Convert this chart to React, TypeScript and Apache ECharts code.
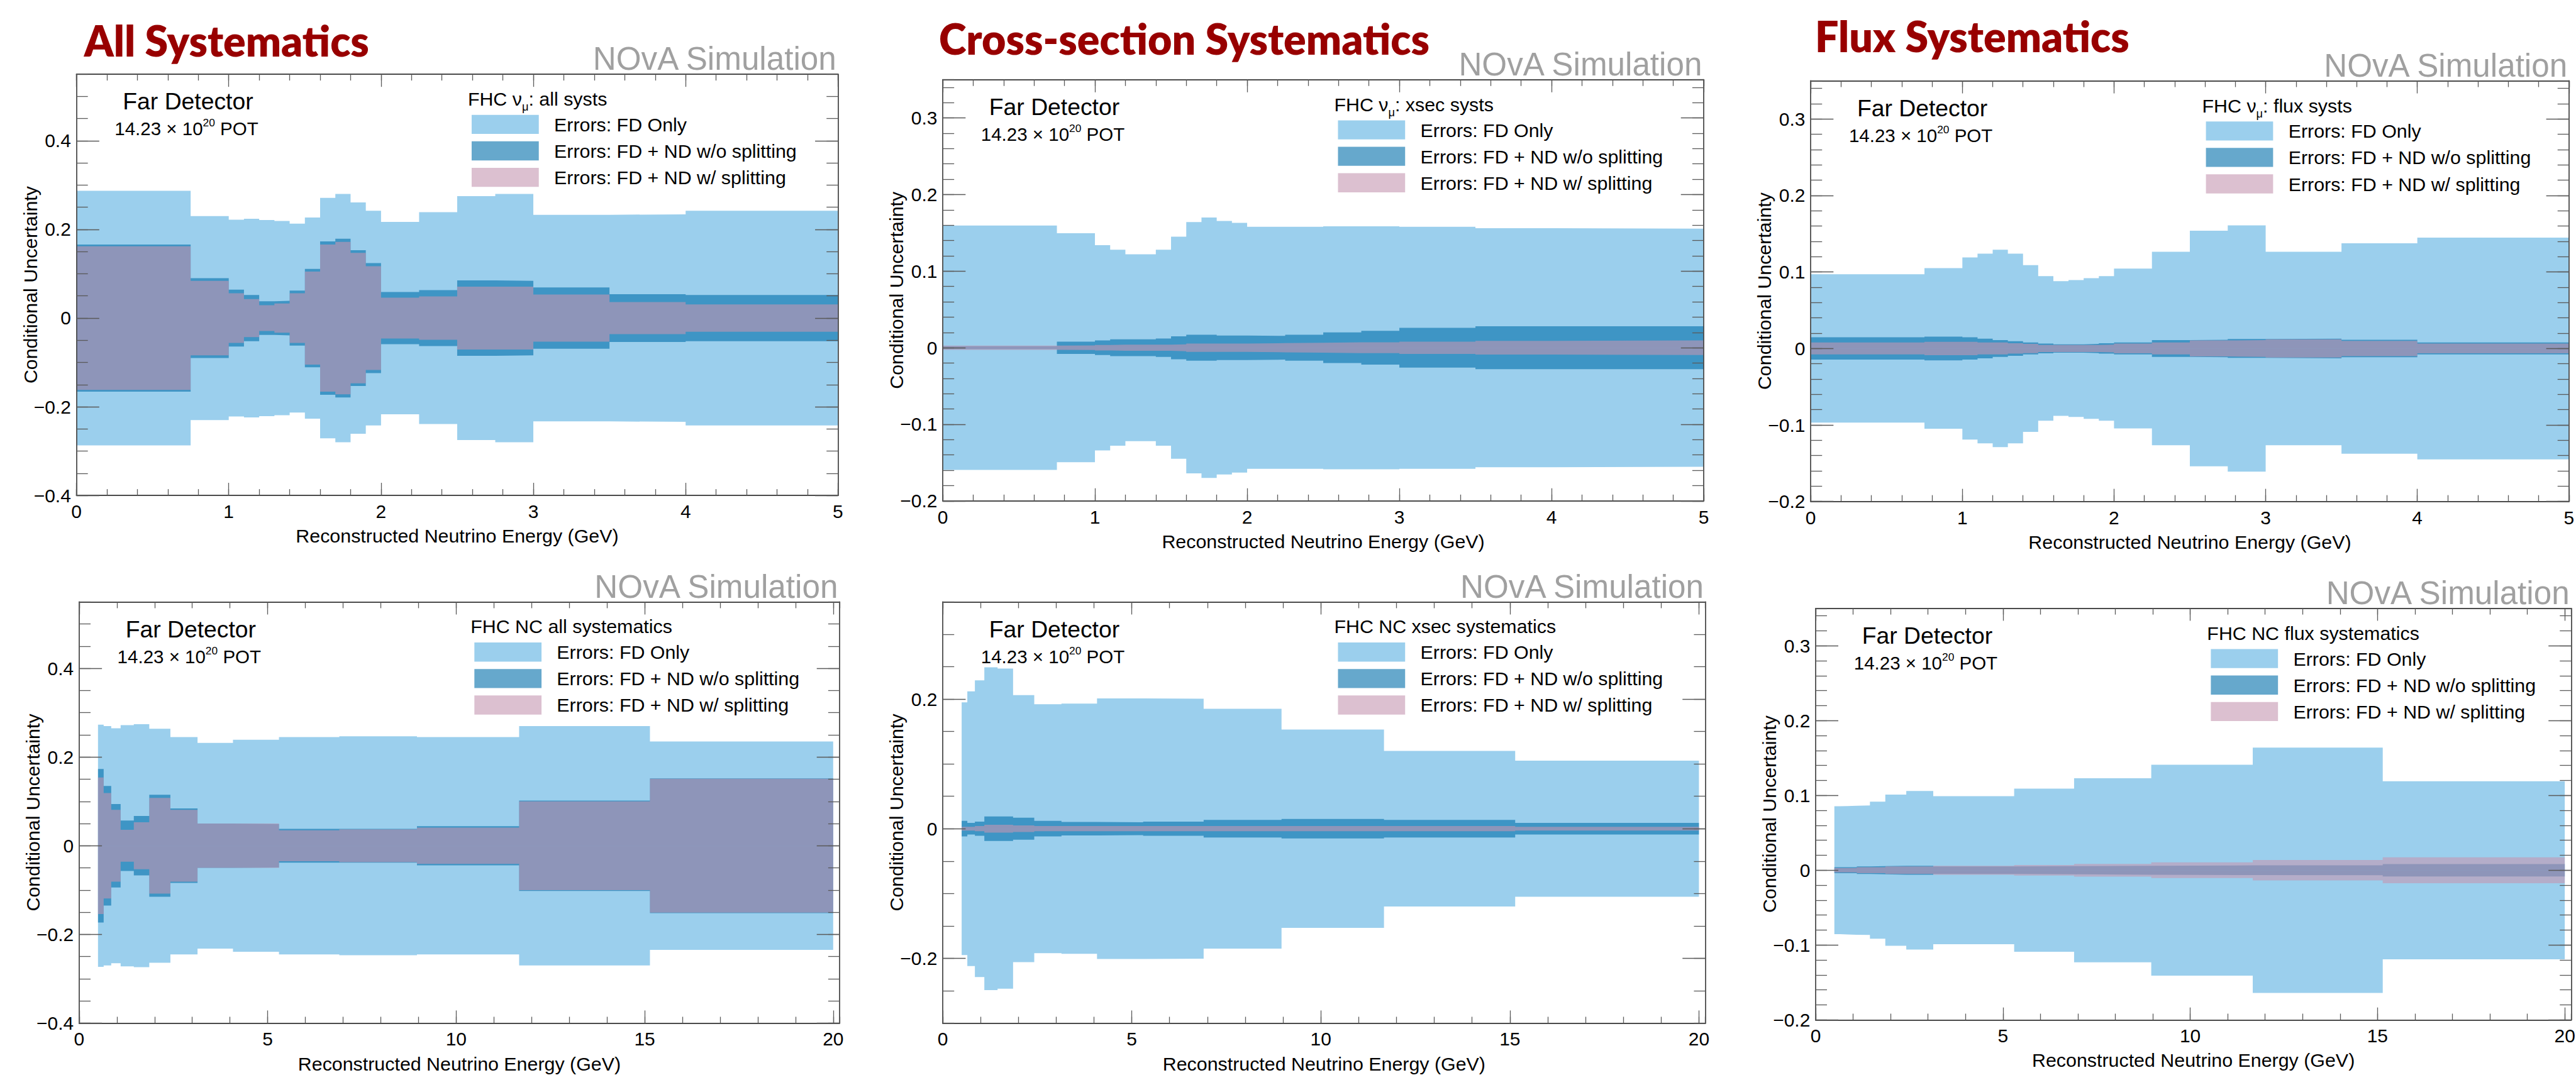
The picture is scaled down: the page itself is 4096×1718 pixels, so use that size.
import React, { useEffect, useRef } from "react";
import * as echarts from "echarts";

const S = 0.868;
const W = 4096;
const H = 1718;

// ---- bin edges (GeV) ----
const numuEdges = [0, 0.75, 1, 1.1, 1.2, 1.3, 1.4, 1.5, 1.6, 1.7, 1.8, 1.9, 2, 2.25, 2.5, 2.75, 3, 3.5, 4, 5];
const ncEdges = [0.5, 0.65, 0.85, 1.1, 1.45, 1.86, 2.42, 3.14, 4.08, 5.3, 6.9, 8.96, 11.67, 15.14, 20];

// ---- FHC numu, all systs (half-width of band) ----
const numuAllFD = [0.287, 0.23, 0.222, 0.224, 0.221, 0.219, 0.213, 0.227, 0.271, 0.28, 0.261, 0.242, 0.217, 0.239, 0.275, 0.28, 0.233, 0.234, 0.242];
const numuAllND = [0.166, 0.09, 0.064, 0.052, 0.038, 0.039, 0.062, 0.111, 0.173, 0.179, 0.153, 0.124, 0.059, 0.063, 0.085, 0.084, 0.069, 0.054, 0.052];
const numuAllSplit = [0.162, 0.084, 0.056, 0.043, 0.029, 0.033, 0.056, 0.105, 0.166, 0.172, 0.147, 0.117, 0.046, 0.049, 0.071, 0.071, 0.053, 0.036, 0.031];

// ---- FHC numu, xsec systs ----
const numuXsecFD = [0.1595, 0.1495, 0.134, 0.128, 0.122, 0.122, 0.128, 0.145, 0.164, 0.17, 0.1655, 0.163, 0.158, 0.158, 0.1586, 0.1586, 0.158, 0.156, 0.1555];
const numuXsecND = [0.002, 0.008, 0.0095, 0.011, 0.011, 0.011, 0.012, 0.015, 0.017, 0.017, 0.016, 0.016, 0.0155, 0.017, 0.02, 0.022, 0.026, 0.028, 0.028];
const numuXsecSplit = [0.0027, 0.003, 0.0036, 0.004, 0.004, 0.004, 0.004, 0.0045, 0.0055, 0.0055, 0.0055, 0.0055, 0.006, 0.0065, 0.007, 0.007, 0.008, 0.009, 0.0095];

// ---- FHC numu, flux systs ----
const numuFluxFD = [0.097, 0.105, 0.119, 0.124, 0.129, 0.124, 0.109, 0.0945, 0.088, 0.0895, 0.092, 0.0945, 0.1045, 0.1265, 0.154, 0.161, 0.1265, 0.1375, 0.145];
const numuFluxND = [0.0146, 0.0155, 0.0146, 0.0128, 0.011, 0.0096, 0.0078, 0.0064, 0.0055, 0.0055, 0.006, 0.0068, 0.0078, 0.011, 0.0114, 0.0123, 0.0128, 0.0114, 0.0078];
const numuFluxSplit = [0.0078, 0.0087, 0.0087, 0.0078, 0.0078, 0.0068, 0.006, 0.0046, 0.0046, 0.0046, 0.0046, 0.005, 0.0064, 0.0078, 0.0105, 0.011, 0.0119, 0.01, 0.0064];

// ---- FHC NC, all systematics ----
const ncAllFD = [0.273, 0.27, 0.265, 0.272, 0.274, 0.264, 0.245, 0.232, 0.239, 0.245, 0.247, 0.245, 0.27, 0.235];
const ncAllND = [0.173, 0.135, 0.094, 0.057, 0.067, 0.115, 0.084, 0.05, 0.049, 0.038, 0.038, 0.044, 0.102, 0.152];
const ncAllSplit = [0.154, 0.119, 0.081, 0.036, 0.053, 0.108, 0.081, 0.05, 0.05, 0.035, 0.037, 0.041, 0.1, 0.151];

// ---- FHC NC, xsec systematics ----
const ncXsecFD = [0.195, 0.212, 0.229, 0.249, 0.247, 0.206, 0.192, 0.193, 0.201, 0.2005, 0.185, 0.153, 0.12, 0.105];
const ncXsecND = [0.012, 0.009, 0.011, 0.019, 0.019, 0.017, 0.012, 0.0105, 0.01, 0.011, 0.0135, 0.015, 0.0135, 0.009];
const ncXsecSplit = [0.003, 0.003, 0.004, 0.006, 0.006, 0.005, 0.004, 0.004, 0.004, 0.004, 0.004, 0.004, 0.004, 0.003];

// ---- FHC NC, flux systematics ----
const ncFluxFD = [0.0855, 0.0858, 0.0862, 0.0865, 0.0916, 0.101, 0.106, 0.099, 0.099, 0.109, 0.123, 0.141, 0.164, 0.119];
const ncFluxND = [0.004, 0.004, 0.004, 0.005, 0.0055, 0.006, 0.006, 0.005, 0.005, 0.0055, 0.006, 0.0065, 0.0066, 0.0083];
const ncFluxSplit = [0.003, 0.003, 0.003, 0.004, 0.004, 0.005, 0.005, 0.006, 0.006, 0.007, 0.0085, 0.0105, 0.0136, 0.0173];

// ---- tick labels ----
const xTicksNumu = [0, 1, 2, 3, 4, 5];
const xTicksNC = [0, 5, 10, 15, 20];
const yTicksWide = [-0.4, -0.2, 0, 0.2, 0.4];
const yTicksNarrow = [-0.2, -0.1, 0, 0.1, 0.2, 0.3];
const yTicksNcXsec = [-0.2, 0, 0.2];

const legendLabels = ["Errors: FD Only", "Errors: FD + ND w/o splitting", "Errors: FD + ND w/ splitting"];
const xTitle = "Reconstructed Neutrino Energy (GeV)";
const yTitle = "Conditional Uncertainty";
const detectorText = "Far Detector";
const simText = "NOvA Simulation";

const FONT = "'Liberation Sans', Arial, Helvetica, sans-serif";
const TITLE_FONT = "Lato, 'Open Sans', sans-serif";
const LIGHT = "rgb(155,207,237)";
const DARK = "rgba(0,110,170,0.6)";
const PINK = "rgba(197,150,177,0.6)";
const FRAME = "#4a4a4a";
const TICK = "#5a5a5a";
const TITLE_RED = "#980000";
const GRAY = "#a0a0a0";

type Panel = {
  frame: number[];
  title?: string;
  titlePos?: number[];
  header: string;
  edges: number[];
  fd: number[];
  nd: number[];
  split: number[];
  xMax: number;
  xMajor: number[];
  xMinor: number;
  yMin: number;
  yMax: number;
  yMajor: number[];
  yMinor: number;
};

const panels: Panel[] = [
  {
    frame: [140, 136, 1535, 908], title: "All Systematics", titlePos: [154, 73],
    header: "FHC ν{sub|μ}: all systs", edges: numuEdges, fd: numuAllFD, nd: numuAllND, split: numuAllSplit,
    xMax: 5, xMajor: xTicksNumu, xMinor: 0.2, yMin: -0.4, yMax: 0.55, yMajor: yTicksWide, yMinor: 0.05,
  },
  {
    frame: [1727, 146, 3121, 918], title: "Cross-section Systematics", titlePos: [1720, 69],
    header: "FHC ν{sub|μ}: xsec systs", edges: numuEdges, fd: numuXsecFD, nd: numuXsecND, split: numuXsecSplit,
    xMax: 5, xMajor: xTicksNumu, xMinor: 0.2, yMin: -0.2, yMax: 0.35, yMajor: yTicksNarrow, yMinor: 0.02,
  },
  {
    frame: [3317, 148, 4706, 919], title: "Flux Systematics", titlePos: [3325, 65],
    header: "FHC ν{sub|μ}: flux systs", edges: numuEdges, fd: numuFluxFD, nd: numuFluxND, split: numuFluxSplit,
    xMax: 5, xMajor: xTicksNumu, xMinor: 0.2, yMin: -0.2, yMax: 0.35, yMajor: yTicksNarrow, yMinor: 0.02,
  },
  {
    frame: [145, 1103, 1538, 1875],
    header: "FHC NC all systematics", edges: ncEdges, fd: ncAllFD, nd: ncAllND, split: ncAllSplit,
    xMax: 20.17, xMajor: xTicksNC, xMinor: 1, yMin: -0.4, yMax: 0.55, yMajor: yTicksWide, yMinor: 0.05,
  },
  {
    frame: [1727, 1103, 3124, 1875],
    header: "FHC NC xsec systematics", edges: ncEdges, fd: ncXsecFD, nd: ncXsecND, split: ncXsecSplit,
    xMax: 20.17, xMajor: xTicksNC, xMinor: 1, yMin: -0.3, yMax: 0.35, yMajor: yTicksNcXsec, yMinor: 0.05,
  },
  {
    frame: [3326, 1115, 4710, 1869],
    header: "FHC NC flux systematics", edges: ncEdges, fd: ncFluxFD, nd: ncFluxND, split: ncFluxSplit,
    xMax: 20.17, xMajor: xTicksNC, xMinor: 1, yMin: -0.2, yMax: 0.35, yMajor: yTicksNarrow, yMinor: 0.02,
  },
];

function stepData(edges: number[], vals: number[], sign: number) {
  const pts = vals.map((v, i) => [edges[i], sign * v]);
  pts.push([edges[edges.length - 1], sign * vals[vals.length - 1]]);
  return pts;
}

const fmtY = (v: number) => (v < 0 ? "\u2212" + String(Math.round(-v * 1000) / 1000) : String(Math.round(v * 1000) / 1000));
const fmtX = (v: number) => String(Math.round(v * 1000) / 1000);

function buildOption() {
  const grid: any[] = [];
  const xAxis: any[] = [];
  const yAxis: any[] = [];
  const series: any[] = [];
  const graphic: any[] = [];

  const axisLineStyle = { color: FRAME, width: 1.8 };
  const tickStyle = { color: TICK, width: 1.3 };
  const labelFont = 34.5 * S;
  const titleFont = 35 * S;

  panels.forEach((p, i) => {
    const [L, T, R, B] = p.frame;
    grid.push({
      left: L * S, top: T * S, width: (R - L) * S, height: (B - T) * S,
      containLabel: false, outerBoundsMode: "none", show: false,
    });
    const xMajLen = 0.03 * (B - T) * S;
    const yMajLen = 0.03 * (R - L) * S;

    const xBase = { type: "value", gridIndex: i, min: 0, max: p.xMax, splitLine: { show: false }, z: 6 };
    xAxis.push({
      ...xBase, position: "bottom", interval: p.xMinor,
      axisLine: { show: true, onZero: false, lineStyle: axisLineStyle },
      axisTick: { show: true, inside: true, length: xMajLen / 2, lineStyle: tickStyle },
      axisLabel: { show: false },
    });
    xAxis.push({
      ...xBase, position: "bottom",
      axisLine: { show: false, onZero: false },
      axisTick: { show: true, inside: true, length: xMajLen, lineStyle: tickStyle, customValues: p.xMajor },
      axisLabel: {
        show: true, customValues: p.xMajor, margin: 12 * S, fontSize: labelFont,
        fontFamily: FONT, color: "#000", formatter: fmtX,
      },
      name: xTitle, nameLocation: "middle", nameGap: 49, nameMoveOverlap: false,
      nameTextStyle: { fontSize: titleFont, fontFamily: FONT, color: "#000" },
    });
    xAxis.push({
      ...xBase, position: "top", interval: p.xMinor,
      axisLine: { show: true, onZero: false, lineStyle: axisLineStyle },
      axisTick: { show: true, inside: true, length: xMajLen / 2, lineStyle: tickStyle },
      axisLabel: { show: false },
    });
    xAxis.push({
      ...xBase, position: "top",
      axisLine: { show: false, onZero: false },
      axisTick: { show: true, inside: true, length: xMajLen, lineStyle: tickStyle, customValues: p.xMajor },
      axisLabel: { show: false },
    });

    const yBase = { type: "value", gridIndex: i, min: p.yMin, max: p.yMax, splitLine: { show: false }, z: 6 };
    yAxis.push({
      ...yBase, position: "left", interval: p.yMinor,
      axisLine: { show: true, onZero: false, lineStyle: axisLineStyle },
      axisTick: { show: true, inside: true, length: yMajLen / 2, lineStyle: tickStyle },
      axisLabel: { show: false },
    });
    yAxis.push({
      ...yBase, position: "left",
      axisLine: { show: false, onZero: false },
      axisTick: { show: true, inside: true, length: yMajLen, lineStyle: tickStyle, customValues: p.yMajor },
      axisLabel: {
        show: true, customValues: p.yMajor, margin: 10 * S, fontSize: labelFont,
        fontFamily: FONT, color: "#000", formatter: fmtY,
      },
      name: yTitle, nameLocation: "middle", nameGap: 59, nameMoveOverlap: false,
      nameTextStyle: { fontSize: titleFont, fontFamily: FONT, color: "#000" },
    });
    yAxis.push({
      ...yBase, position: "right", interval: p.yMinor,
      axisLine: { show: true, onZero: false, lineStyle: axisLineStyle },
      axisTick: { show: true, inside: true, length: yMajLen / 2, lineStyle: tickStyle },
      axisLabel: { show: false },
    });
    yAxis.push({
      ...yBase, position: "right",
      axisLine: { show: false, onZero: false },
      axisTick: { show: true, inside: true, length: yMajLen, lineStyle: tickStyle, customValues: p.yMajor },
      axisLabel: { show: false },
    });

    const bands: [string, number[], string][] = [
      [legendLabels[0], p.fd, LIGHT],
      [legendLabels[1], p.nd, DARK],
      [legendLabels[2], p.split, PINK],
    ];
    bands.forEach(([name, vals, color], k) => {
      [1, -1].forEach((sign) => {
        series.push({
          type: "line", name, xAxisIndex: 4 * i, yAxisIndex: 4 * i, step: "end",
          data: stepData(p.edges, vals, sign), symbol: "none", showSymbol: false, silent: true,
          lineStyle: { width: 0, opacity: 0 },
          areaStyle: { color, opacity: 1, origin: "auto" },
          z: 2 + k, animation: false,
        });
      });
    });

    // ---- texts ----
    if (p.title && p.titlePos) {
      graphic.push({
        type: "text", x: p.titlePos[0] * S, y: p.titlePos[1] * S, scaleX: 0.96, z: 100,
        style: {
          text: p.title, fontSize: 69, fontWeight: 800, fontFamily: TITLE_FONT, fill: TITLE_RED,
          textAlign: "left", textVerticalAlign: "middle",
        },
      });
    }
    graphic.push({
      type: "text", x: (R - 3) * S, y: (T - 28) * S, z: 100,
      style: { text: simText, fontSize: 59 * S, fontFamily: FONT, fill: GRAY, textAlign: "right", textVerticalAlign: "middle" },
    });
    graphic.push({
      type: "text", x: (L + 85) * S, y: (T + 50) * S, z: 100,
      style: { text: detectorText, fontSize: 43 * S, fontFamily: FONT, fill: "#000", textAlign: "left", textVerticalAlign: "middle" },
    });
    graphic.push({
      type: "text", x: (L + 70) * S, y: (T + 100) * S, z: 100,
      style: {
        text: "14.23 × 10{sup|20} POT", fontSize: 34 * S, fontFamily: FONT, fill: "#000",
        textAlign: "left", textVerticalAlign: "middle",
        rich: { sup: { fontSize: 20 * S, fontFamily: FONT, fill: "#000", verticalAlign: "top", padding: [0, 0, 19, 0] } },
      },
    });
    graphic.push({
      type: "text", x: (L + 717) * S, y: (T + 45) * S, z: 100,
      style: {
        text: p.header, fontSize: 35 * S, fontFamily: FONT, fill: "#000",
        textAlign: "left", textVerticalAlign: "middle",
        rich: { sub: { fontSize: 21 * S, fontFamily: FONT, fill: "#000", verticalAlign: "bottom", padding: [26, 0, 0, 0] } },
      },
    });
    const boxCenters = [92, 140.5, 189];
    const boxColors = [LIGHT, DARK, PINK];
    boxCenters.forEach((c, k) => {
      graphic.push({
        type: "rect", z: 100,
        shape: { x: (L + 724) * S, y: (T + c - 17.5) * S, width: 123 * S, height: 35 * S },
        style: { fill: boxColors[k] },
      });
      graphic.push({
        type: "text", x: (L + 875) * S, y: (T + c) * S, z: 100,
        style: { text: legendLabels[k], fontSize: 35 * S, fontFamily: FONT, fill: "#000", textAlign: "left", textVerticalAlign: "middle" },
      });
    });
  });

  return {
    animation: false,
    backgroundColor: "#ffffff",
    grid, xAxis, yAxis, series, graphic,
  };
}

export default function App() {
  const ref = useRef<HTMLDivElement>(null);
  useEffect(() => {
    if (!ref.current) return;
    const chart = echarts.init(ref.current, null, { renderer: "svg" });
    chart.setOption(buildOption() as any);
    return () => chart.dispose();
  }, []);
  return <div ref={ref} style={{ position: "fixed", left: 0, top: 0, width: W, height: H }} />;
}
